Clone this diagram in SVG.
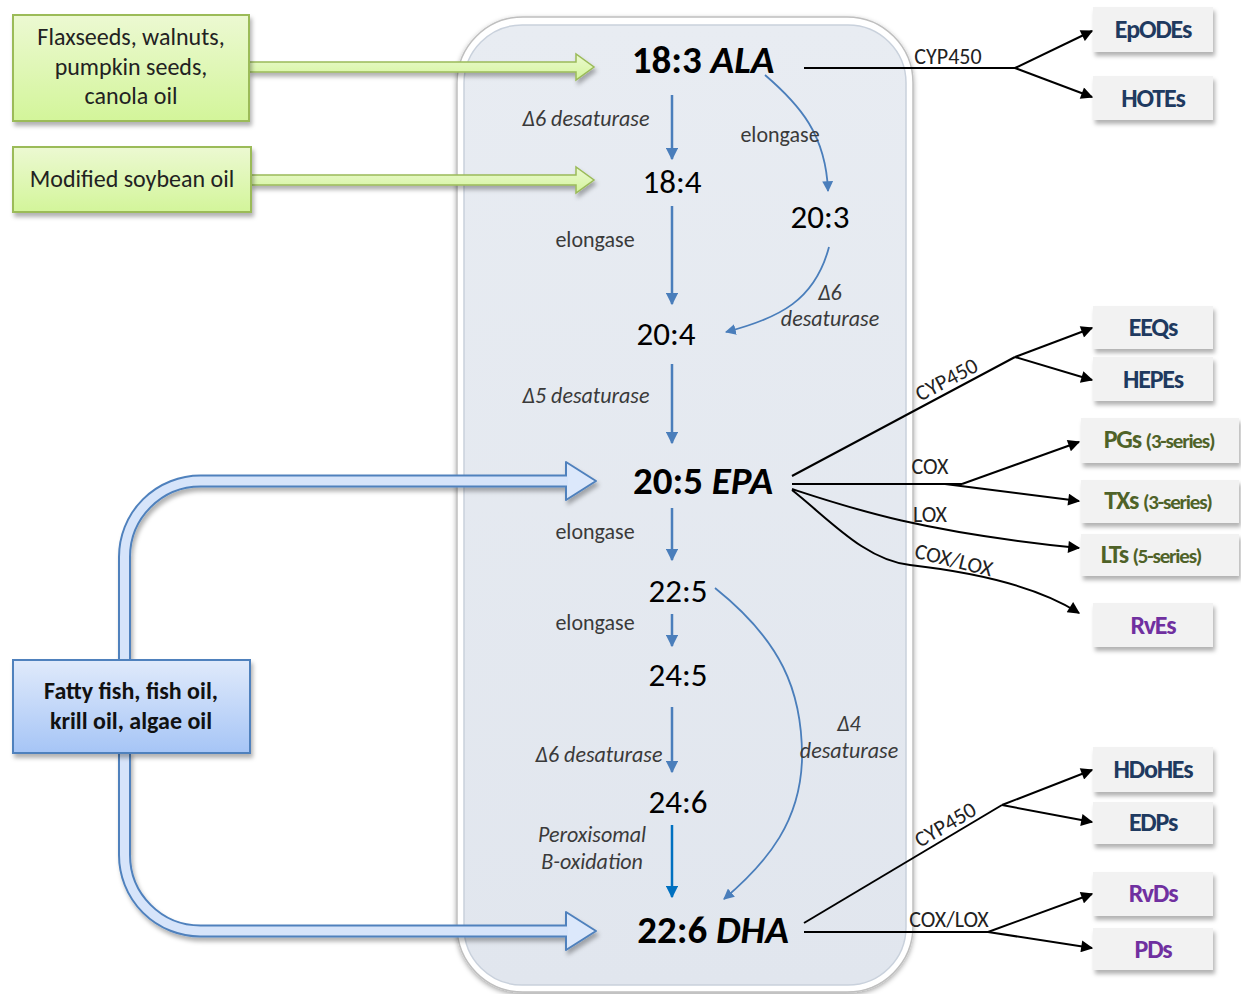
<svg xmlns="http://www.w3.org/2000/svg" width="1241" height="994" viewBox="0 0 1241 994">
<defs>
<linearGradient id="gGreen" x1="0" y1="0" x2="0" y2="1"><stop offset="0" stop-color="#ecf9d2"/><stop offset="1" stop-color="#d3f59a"/></linearGradient>
<linearGradient id="gBlue" x1="0" y1="0" x2="0" y2="1"><stop offset="0" stop-color="#e0eafb"/><stop offset="1" stop-color="#a6c5f6"/></linearGradient>
<linearGradient id="gPanel" x1="0" y1="0" x2="0" y2="1"><stop offset="0" stop-color="#e8ecf2"/><stop offset="1" stop-color="#e1e6ee"/></linearGradient>
<filter id="sh" x="-10%" y="-10%" width="130%" height="140%"><feDropShadow dx="2" dy="4" stdDeviation="2" flood-color="#000" flood-opacity="0.3"/></filter>
<filter id="shp" x="-5%" y="-5%" width="110%" height="110%"><feDropShadow dx="0" dy="2" stdDeviation="2.5" flood-color="#000" flood-opacity="0.35"/></filter>
<marker id="ab" viewBox="0 0 10 10" refX="9" refY="5" markerWidth="5" markerHeight="5" orient="auto" markerUnits="strokeWidth"><path d="M0,0 L10,5 L0,10 z" fill="#4a7ebb"/></marker>
<marker id="ab2" viewBox="0 0 10 10" refX="9" refY="5" markerWidth="6" markerHeight="6" orient="auto" markerUnits="strokeWidth"><path d="M0,0 L10,5 L0,10 z" fill="#4a7ebb"/></marker>
<marker id="ad" viewBox="0 0 10 10" refX="9" refY="5" markerWidth="5" markerHeight="5" orient="auto" markerUnits="strokeWidth"><path d="M0,0 L10,5 L0,10 z" fill="#0070c0"/></marker>
<marker id="ak" viewBox="0 0 10 10" refX="9" refY="5" markerWidth="7" markerHeight="6" orient="auto" markerUnits="strokeWidth"><path d="M0,0 L10,5 L0,10 z" fill="#000"/></marker>
</defs>
<style>
text{font-family:Carlito,Lato,"Liberation Sans",sans-serif}
.nb{font-size:39px;font-weight:bold;fill:#000;text-anchor:middle}
.nr{font-size:33px;fill:#000;text-anchor:middle}
.lb{font-size:22px;fill:#3a3a3a;text-anchor:middle}
.it{font-style:italic}
.ck{font-size:22px;fill:#222;text-anchor:middle}
.src{font-size:24px;fill:#222;text-anchor:middle}
.srcb{font-size:24px;font-weight:bold;fill:#111;text-anchor:middle}
.pb{fill:#f2f2f2;filter:url(#sh)}
.pt{font-size:26px;font-weight:900;text-anchor:middle;letter-spacing:-1.2px}
.sm{font-size:21px}
.c1{fill:#1f3a60}.c2{fill:#4f6228}.c3{fill:#7030a0}
.bl{fill:none;stroke:#4a7ebb;stroke-width:2.5}
.bc{fill:none;stroke:#4a7ebb;stroke-width:1.8}
.k{fill:none;stroke:#000;stroke-width:2}
</style>

<g id="panel">
<rect x="457" y="17" width="456" height="975" rx="66" fill="#fff" stroke="#bfbfbf" stroke-width="1.5" filter="url(#shp)"/>
<rect x="464" y="25" width="442" height="960" rx="58" fill="url(#gPanel)" stroke="#c9d1dc" stroke-width="1.5"/>
</g>

<g id="source-arrows">
<g filter="url(#sh)">
<path d="M249,62 H576 V54 L594,67 L576,80 V72 H249 Z" fill="url(#gGreen)" stroke="#9bbb59" stroke-width="1.5"/>
<path d="M251,175 H576 V167 L594,180 L576,193 V185 H251 Z" fill="url(#gGreen)" stroke="#9bbb59" stroke-width="1.5"/>
</g>
<g filter="url(#sh)">
<path d="M124.5,662 V557 A76,76 0 0 1 200.5,481 H570" fill="none" stroke="#4f81bd" stroke-width="13"/>
<path d="M124.5,751 V855 A76,76 0 0 0 200.5,931 H570" fill="none" stroke="#4f81bd" stroke-width="13"/>
<path d="M566,462 L596,481 L566,500 Z" fill="#dce8fb" stroke="#4f81bd" stroke-width="2" stroke-linejoin="round"/>
<path d="M566,912 L596,931 L566,950 Z" fill="#dce8fb" stroke="#4f81bd" stroke-width="2" stroke-linejoin="round"/>
<path d="M124.5,662 V557 A76,76 0 0 1 200.5,481 H568" fill="none" stroke="#d6e4fa" stroke-width="9"/>
<path d="M124.5,751 V855 A76,76 0 0 0 200.5,931 H568" fill="none" stroke="#d6e4fa" stroke-width="9"/>
</g>
</g>

<g id="src-flax">
<rect x="13" y="15" width="236" height="106" fill="url(#gGreen)" stroke="#9bbb59" stroke-width="2" filter="url(#sh)"/>
<text class="src" x="131" y="45">Flaxseeds, walnuts,</text>
<text class="src" x="131" y="75">pumpkin seeds,</text>
<text class="src" x="131" y="104">canola oil</text>
</g>
<g id="src-soy">
<rect x="13" y="147" width="238" height="65" fill="url(#gGreen)" stroke="#9bbb59" stroke-width="2" filter="url(#sh)"/>
<text class="src" x="132" y="187">Modified soybean oil</text>
</g>
<g id="src-fish">
<rect x="13" y="660" width="237" height="93" fill="url(#gBlue)" stroke="#4f81bd" stroke-width="2" filter="url(#sh)"/>
<text class="srcb" x="131" y="699">Fatty fish, fish oil,</text>
<text class="srcb" x="131" y="729">krill oil, algae oil</text>
</g>

<g id="connectors">
<line class="bl" x1="672" y1="95" x2="672" y2="159" marker-end="url(#ab)"/>
<line class="bl" x1="672" y1="206" x2="672" y2="304" marker-end="url(#ab)"/>
<line class="bl" x1="672" y1="364" x2="672" y2="443" marker-end="url(#ab)"/>
<line class="bl" x1="672" y1="508" x2="672" y2="560" marker-end="url(#ab)"/>
<line class="bl" x1="672" y1="614" x2="672" y2="646" marker-end="url(#ab)"/>
<line class="bl" x1="672" y1="707" x2="672" y2="772" marker-end="url(#ab)"/>
<line x1="672" y1="825" x2="672" y2="897" fill="none" stroke="#0070c0" stroke-width="2.5" marker-end="url(#ad)"/>
<path class="bc" d="M765,75 C800,105 826,135 828,191" marker-end="url(#ab2)"/>
<path class="bc" d="M829,247 C815,300 780,318 726,332" marker-end="url(#ab2)"/>
<path class="bc" d="M715,588 C780,640 803,690 802,760 C800,820 770,860 724,899" marker-end="url(#ab2)"/>

<path class="k" d="M804,68 H1015"/>
<path class="k" d="M1015,68 L1092,31" marker-end="url(#ak)"/>
<path class="k" d="M1015,68 L1092,97" marker-end="url(#ak)"/>

<path class="k" d="M792,476 L1015,357"/>
<path class="k" d="M1015,357 L1092,328" marker-end="url(#ak)"/>
<path class="k" d="M1015,357 L1092,380" marker-end="url(#ak)"/>
<path class="k" d="M792,484 H962"/>
<path class="k" d="M962,484 L1079,442" marker-end="url(#ak)"/>
<path class="k" d="M945,484 L1079,501" marker-end="url(#ak)"/>
<path class="k" d="M792,489 C850,508 920,532 1079,548" marker-end="url(#ak)"/>
<path class="k" d="M792,490 C830,520 865,560 910,565 C980,573 1040,588 1079,613" marker-end="url(#ak)"/>

<path class="k" d="M804,923 L1002,805"/>
<path class="k" d="M1002,805 L1092,770" marker-end="url(#ak)"/>
<path class="k" d="M1002,805 L1092,822" marker-end="url(#ak)"/>
<path class="k" d="M804,932 H988"/>
<path class="k" d="M988,932 L1092,894" marker-end="url(#ak)"/>
<path class="k" d="M988,932 L1092,948" marker-end="url(#ak)"/>

<text class="ck" x="948" y="64">CYP450</text>
<text class="ck" x="950" y="386" transform="rotate(-28 950 386)">CYP450</text>
<text class="ck" x="930" y="474">COX</text>
<text class="ck" x="930" y="522">LOX</text>
<text class="ck" x="952" y="567" transform="rotate(14 952 567)">COX/LOX</text>
<text class="ck" x="949" y="831" transform="rotate(-30.5 949 831)">CYP450</text>
<text class="ck" x="949" y="927">COX/LOX</text>

<text class="lb it" x="586" y="126">Δ6 desaturase</text>
<text class="lb" x="780" y="142">elongase</text>
<text class="lb" x="595" y="247">elongase</text>
<text class="lb it" x="830" y="300">Δ6</text>
<text class="lb it" x="830" y="326">desaturase</text>
<text class="lb it" x="586" y="403">Δ5 desaturase</text>
<text class="lb" x="595" y="539">elongase</text>
<text class="lb" x="595" y="630">elongase</text>
<text class="lb it" x="599" y="762">Δ6 desaturase</text>
<text class="lb it" x="592" y="842">Peroxisomal</text>
<text class="lb it" x="592" y="869">B-oxidation</text>
<text class="lb it" x="849" y="731">Δ4</text>
<text class="lb it" x="849" y="758">desaturase</text>
</g>

<g id="n-ala"><text class="nb" x="703" y="73">18:3 <tspan font-style="italic">ALA</tspan></text></g>
<g id="n-184"><text class="nr" x="672" y="193">18:4</text></g>
<g id="n-203"><text class="nr" x="820" y="228">20:3</text></g>
<g id="n-204"><text class="nr" x="666" y="345">20:4</text></g>
<g id="n-epa"><text class="nb" x="703" y="494">20:5 <tspan font-style="italic">EPA</tspan></text></g>
<g id="n-225"><text class="nr" x="678" y="602">22:5</text></g>
<g id="n-245"><text class="nr" x="678" y="686">24:5</text></g>
<g id="n-246"><text class="nr" x="678" y="813">24:6</text></g>
<g id="n-dha"><text class="nb" x="713" y="943">22:6 <tspan font-style="italic">DHA</tspan></text></g>

<g id="p-epodes"><rect class="pb" x="1093" y="7" width="120" height="45"/><text class="pt c1" x="1153" y="38">EpODEs</text></g>
<g id="p-hotes"><rect class="pb" x="1093" y="76" width="120" height="44"/><text class="pt c1" x="1153" y="107">HOTEs</text></g>
<g id="p-eeqs"><rect class="pb" x="1093" y="306" width="120" height="43"/><text class="pt c1" x="1153" y="336">EEQs</text></g>
<g id="p-hepes"><rect class="pb" x="1093" y="357" width="120" height="44"/><text class="pt c1" x="1153" y="388">HEPEs</text></g>
<g id="p-pgs"><rect class="pb" x="1081" y="418" width="158" height="45"/><text class="pt c2" x="1159" y="448">PGs <tspan class="sm">(3-series)</tspan></text></g>
<g id="p-txs"><rect class="pb" x="1081" y="480" width="158" height="43"/><text class="pt c2" x="1158" y="509">TXs <tspan class="sm">(3-series)</tspan></text></g>
<g id="p-lts"><rect class="pb" x="1081" y="534" width="158" height="42"/><text class="pt c2" x="1151" y="563">LTs <tspan class="sm">(5-series)</tspan></text></g>
<g id="p-rves"><rect class="pb" x="1093" y="603" width="120" height="44"/><text class="pt c3" x="1153" y="634">RvEs</text></g>
<g id="p-hdohes"><rect class="pb" x="1093" y="747" width="120" height="45"/><text class="pt c1" x="1153" y="778">HDoHEs</text></g>
<g id="p-edps"><rect class="pb" x="1093" y="802" width="120" height="42"/><text class="pt c1" x="1153" y="831">EDPs</text></g>
<g id="p-rvds"><rect class="pb" x="1093" y="872" width="120" height="44"/><text class="pt c3" x="1153" y="902">RvDs</text></g>
<g id="p-pds"><rect class="pb" x="1093" y="928" width="120" height="42"/><text class="pt c3" x="1153" y="958">PDs</text></g>
</svg>
